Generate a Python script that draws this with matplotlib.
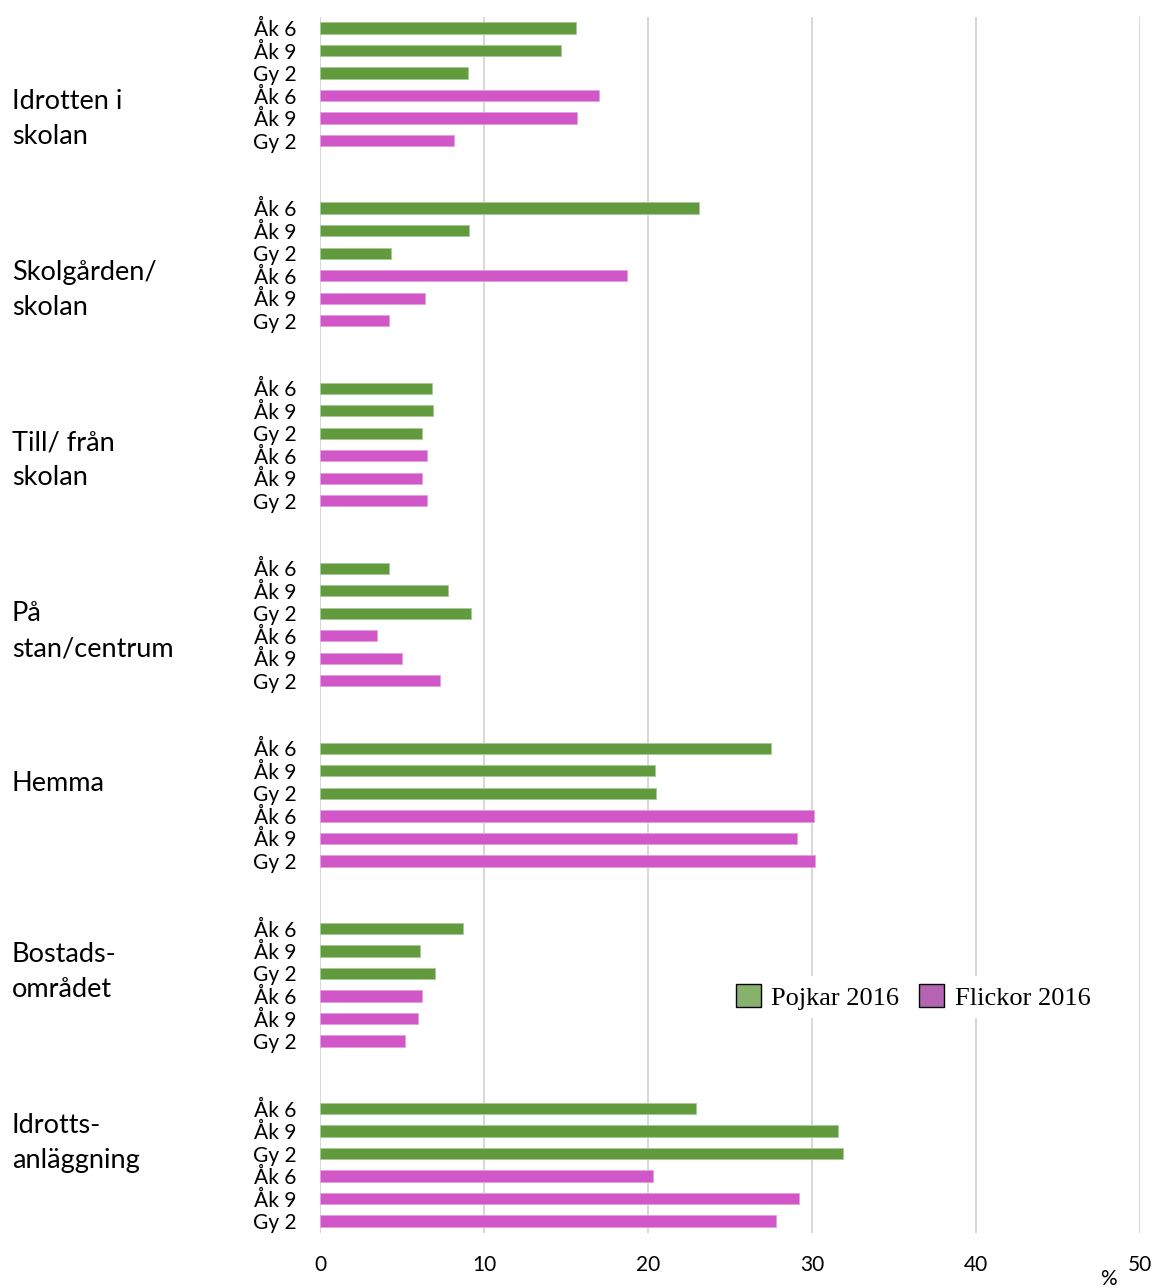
import numpy as np
import matplotlib
matplotlib.use("Agg")
import matplotlib.pyplot as plt
from matplotlib.patches import Patch
from matplotlib.transforms import blended_transform_factory

# =========================================================
# DATA
# =========================================================

kategorier = [
    "Idrotten i\nskolan",
    "Skolgården/\nskolan",
    "Till/ från\nskolan",
    "På\nstan/centrum",
    "Hemma",
    "Bostads-\nområdet",
    "Idrotts-\nanläggning",
]
arskurser = ["Åk 6", "Åk 9", "Gy 2"]

pojkar = [
    [15.6, 14.7, 9.0],
    [23.1, 9.1, 4.3],
    [6.8, 6.9, 6.2],
    [4.2, 7.8, 9.2],
    [27.5, 20.4, 20.5],
    [8.7, 6.1, 7.0],
    [22.9, 31.6, 31.9],
]
flickor = [
    [17.0, 15.7, 8.2],
    [18.7, 6.4, 4.2],
    [6.5, 6.2, 6.5],
    [3.5, 5.0, 7.3],
    [30.1, 29.1, 30.2],
    [6.2, 6.0, 5.2],
    [20.3, 29.2, 27.8],
]

xticks = [0, 10, 20, 30, 40, 50]

# =========================================================
# STYLE
# =========================================================

GRON       = "#629B3E"
ROSA       = "#D156C8"
GRON_LEG   = "#86B26C"
ROSA_LEG   = "#B564B3"
GRID       = "#D9D9D9"
FONT       = "Lato"
SLOTS      = 8      # 6 staplar + 2 tomma rader per grupp
BAR_H      = 0.5
RAD        = 1.6    # radavstånd för kategoritext, i stapelenheter
KAT_STEG   = 7.58   # kategoritexten följer inte grupperna exakt (som i Excel)

# =========================================================
# PLOT
# =========================================================

fig = plt.figure(figsize=(11.54, 12.88), dpi=100)
ax = fig.add_axes([320 / 1154, 1 - 1233 / 1288, 820 / 1154, 1216 / 1288])
trans_kat = blended_transform_factory(fig.transFigure, ax.transData)

ypos, ylabels = [], []
for g in range(len(kategorier)):
    base = g * SLOTS
    y_p = [base + i for i in range(3)]
    y_f = [base + 3 + i for i in range(3)]
    ax.barh(y_p, pojkar[g], height=BAR_H, color=GRON, edgecolor="#A9C99A",
            linewidth=0.6, zorder=3)
    ax.barh(y_f, flickor[g], height=BAR_H, color=ROSA, edgecolor="#E3A0DC",
            linewidth=0.6, zorder=3)
    ypos += y_p + y_f
    ylabels += arskurser + arskurser

    y_txt = 4.05 + KAT_STEG * g
    if "\n" not in kategorier[g]:
        y_txt -= RAD / 2
    ax.text(12 / 1154, y_txt, kategorier[g], transform=trans_kat,
            ha="left", va="center", fontsize=19.5, family=FONT,
            linespacing=1.5, color="black")

last = (len(kategorier) - 1) * SLOTS + 5
ax.set_ylim(last + 0.53, -0.49)
ax.set_xlim(0, 50)

ax.set_yticks(ypos)
ax.set_yticklabels(ylabels, fontsize=15, family=FONT)
ax.set_xticks(xticks)
ax.set_xticklabels([str(t) for t in xticks], fontsize=15, family=FONT)
ax.tick_params(axis="y", length=0, pad=17)
ax.tick_params(axis="x", length=0, pad=16)

ax.grid(axis="x", color=GRID, linewidth=1.5, zorder=0)
for s in ax.spines.values():
    s.set_visible(False)

fig.text(1108 / 1154, 1 - 1279 / 1288, "%", fontsize=15, family=FONT,
         ha="center", va="center")

handles = [
    Patch(facecolor=GRON_LEG, edgecolor="black", linewidth=1.0, label="Pojkar 2016"),
    Patch(facecolor=ROSA_LEG, edgecolor="black", linewidth=1.0, label="Flickor 2016"),
]
leg = fig.legend(handles=handles, loc="center", ncol=2,
                 bbox_to_anchor=(913 / 1154, 1 - 997 / 1288),
                 prop={"family": "Liberation Serif", "size": 19},
                 frameon=True, handlelength=0.95, handleheight=0.95,
                 handletextpad=0.4, columnspacing=0.75, borderpad=0.3)
leg.get_frame().set_edgecolor("none")
leg.get_frame().set_facecolor("white")
leg.get_frame().set_alpha(1.0)

fig.savefig("out.png", dpi=100)
